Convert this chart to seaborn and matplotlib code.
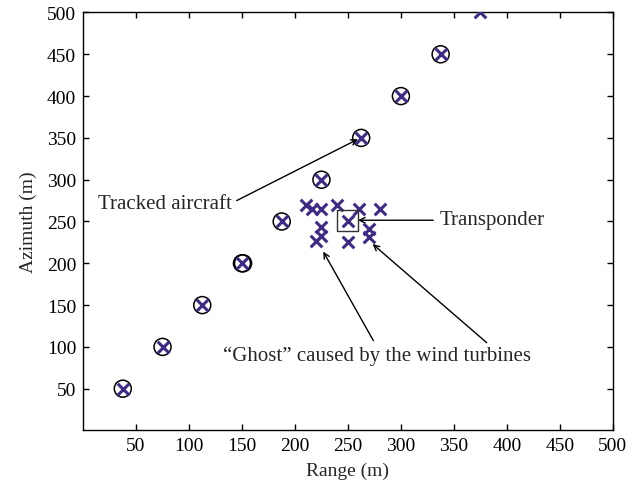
import matplotlib
matplotlib.use("Agg")
import matplotlib.pyplot as plt
import seaborn as sns
import pandas as pd

# ---- data ----
track_range = [37.5, 75, 112.5, 150, 187.5, 225, 262.5, 300, 337.5, 375]
track_azimuth = [50, 100, 150, 200, 250, 300, 350, 400, 450, 500]
circle_range = [37.5, 75, 112.5, 150, 151, 187.5, 225, 262.5, 300, 337.5]
circle_azimuth = [50, 100, 150, 200, 200, 250, 300, 350, 400, 450]
ghost_range = [210, 216, 225, 240, 260, 280, 225, 220, 225, 250, 270, 270]
ghost_azimuth = [270, 265, 265, 270, 265, 265, 243, 227, 233, 226, 241, 231]
transponder_range = [250]
transponder_azimuth = [251]
ticks = [50, 100, 150, 200, 250, 300, 350, 400, 450, 500]

sns.set_style("ticks")
plt.rcParams['font.family'] = ['Liberation Serif', 'DejaVu Serif']

fig = plt.figure(figsize=(6.39, 4.89), dpi=100)
ax = fig.add_axes([0.13, 0.1176, 0.829, 0.8548])

purple = '#3f2a86'

df_c = pd.DataFrame({'r': circle_range, 'a': circle_azimuth})
sns.scatterplot(data=df_c, x='r', y='a', ax=ax, marker='o', s=150,
                facecolors='none', edgecolors='black', linewidth=1.1, zorder=3)

df_x = pd.DataFrame({'r': track_range + ghost_range + transponder_range,
                     'a': track_azimuth + ghost_azimuth + transponder_azimuth})
sns.scatterplot(data=df_x, x='r', y='a', ax=ax, marker='x', s=70,
                color=purple, linewidth=2.2, zorder=4)

df_t = pd.DataFrame({'r': transponder_range, 'a': transponder_azimuth})
sns.scatterplot(data=df_t, x='r', y='a', ax=ax, marker='s', s=230,
                facecolors='none', edgecolors='#333333', linewidth=1.0, zorder=5)

for coll in ax.collections:
    coll.set_clip_on(True)
    coll.set_clip_path(ax.patch)

ax.set_xlim(0, 500)
ax.set_ylim(0, 500)
ax.set_xticks(ticks)
ax.set_yticks(ticks)
ax.set_xlabel('Range (m)', fontsize=14, labelpad=5)
ax.set_ylabel('Azimuth (m)', fontsize=14, labelpad=7)
ax.tick_params(direction='in', length=4, width=1, top=True, right=True,
               labelsize=14, colors='black', pad=5)
for sp in ax.spines.values():
    sp.set_visible(True)
    sp.set_linewidth(1.0)
    sp.set_color('black')

arrow = dict(arrowstyle='->', color='black', lw=1.0, shrinkA=0, shrinkB=0)
fs = 15
ax.text(14, 271, 'Tracked aircraft', fontsize=fs, va='center', ha='left')
ax.annotate('', xy=(259.5, 348.5), xytext=(145, 275), arrowprops=arrow)
ax.text(337, 252, 'Transponder', fontsize=fs, va='center', ha='left')
ax.annotate('', xy=(259.5, 251.5), xytext=(330.5, 251.5), arrowprops=arrow)
ax.text(277, 89.5, '\u201cGhost\u201d caused by the wind turbines',
        fontsize=fs, ha='center', va='center')
ax.annotate('', xy=(226.7, 214), xytext=(274, 107.5), arrowprops=arrow)
ax.annotate('', xy=(273.3, 223), xytext=(381, 105), arrowprops=arrow)

fig.savefig('out.png', dpi=100)
